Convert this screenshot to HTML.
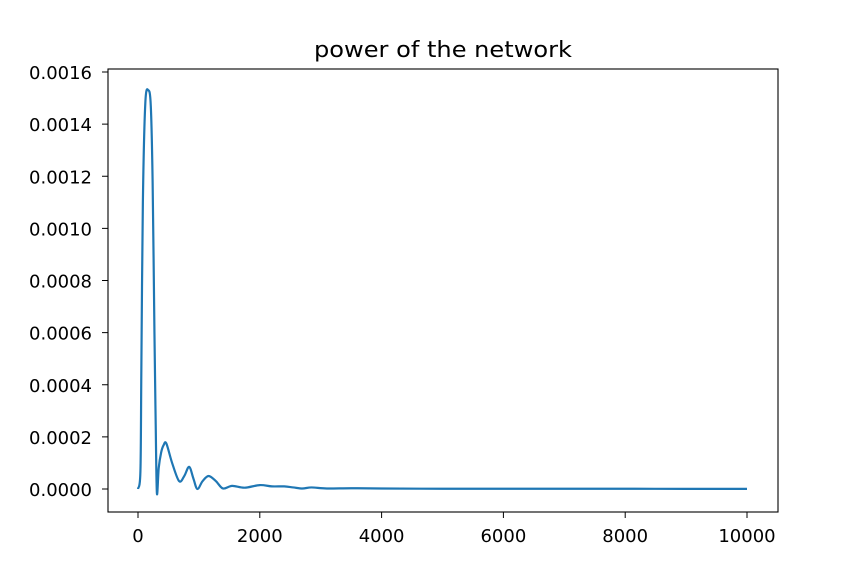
<!DOCTYPE html>
<html><head><meta charset="utf-8"><style>
body{margin:0;background:#fff;}
svg{display:block;font-family:"DejaVu Sans","Liberation Sans",sans-serif;}
</style></head><body>
<svg id="chart" width="864" height="576" viewBox="0 0 864 576">
<rect x="0" y="0" width="864" height="576" fill="#fff"/>
<text x="443" y="57" font-size="22" text-anchor="middle" textLength="258" lengthAdjust="spacingAndGlyphs" fill="#000">power of the network</text>
<g id="plot"></g>
<rect x="108" y="69" width="670" height="443" fill="none" stroke="#000" stroke-width="1.1"/>
<g id="xticks"></g><g id="yticks"></g>
</svg>
<script>
const xs = [0,40,55,80,120,170,210,240,270,290,310,340,380,420,465,560,675,760,840,910,975,1060,1160,1280,1395,1545,1750,2000,2200,2400,2550,2700,2850,3100,3500,4000,5000,6000,7000,8000,9000,10000];
const ys = [0,0.00007,0.00046,0.0011,0.00148,0.00153,0.00147,0.00118,0.0006,0.00026,-0.000015,0.00008,0.00014,0.000168,0.000175,0.0001,0.00003,0.00005,0.000085,0.00004,0.0,0.00003,0.00005,0.00003,0.000002,0.000012,0.000005,0.000015,0.00001,0.00001,0.000006,0.000002,0.000006,0.000002,0.000003,0.000002,0.000001,0.000001,0.000001,0.000001,0.0000005,0.0000005];
const xTickVals = [0,2000,4000,6000,8000,10000];
const yTickVals = [0,0.0002,0.0004,0.0006,0.0008,0.0010,0.0012,0.0014,0.0016];
const yTickLabels = ["0.0000","0.0002","0.0004","0.0006","0.0008","0.0010","0.0012","0.0014","0.0016"];

const X = v => 138 + v * (747 - 138) / 10000;
const Y = v => 489 - v * (489 - 72) / 0.0016;
const NS = "http://www.w3.org/2000/svg";
const plot = document.getElementById('plot');
const pts = xs.map((x,i)=>[X(x),Y(ys[i])]);
let d = `M${pts[0][0]},${pts[0][1]}`;
for (let i=0;i<pts.length-1;i++){
  const p0=pts[Math.max(0,i-1)],p1=pts[i],p2=pts[i+1],p3=pts[Math.min(pts.length-1,i+2)];
  const c1=[p1[0]+(p2[0]-p0[0])/6,p1[1]+(p2[1]-p0[1])/6];
  const c2=[p2[0]-(p3[0]-p1[0])/6,p2[1]-(p3[1]-p1[1])/6];
  d+=` C${c1[0]},${c1[1]} ${c2[0]},${c2[1]} ${p2[0]},${p2[1]}`;
}
const path=document.createElementNS(NS,'path');
path.setAttribute('d',d);
path.setAttribute('fill','none');
path.setAttribute('stroke','#1f77b4');
path.setAttribute('stroke-width','2.2');
path.setAttribute('stroke-linejoin','round');


plot.appendChild(path);

const xt=document.getElementById('xticks');
xTickVals.forEach(v=>{
  const l=document.createElementNS(NS,'line');
  l.setAttribute('x1',X(v));l.setAttribute('x2',X(v));l.setAttribute('y1',512);l.setAttribute('y2',518);
  l.setAttribute('stroke','#000');
  
  
  xt.appendChild(l);
  const t=document.createElementNS(NS,'text');
  const s=String(v);
  t.setAttribute('x',X(v));t.setAttribute('y',542);t.setAttribute('font-size','18');t.setAttribute('text-anchor','middle');
  t.textContent=s;
  
  
  xt.appendChild(t);
});
const yt=document.getElementById('yticks');
yTickVals.forEach((v,i)=>{
  const l=document.createElementNS(NS,'line');
  l.setAttribute('x1',102);l.setAttribute('x2',108);l.setAttribute('y1',Y(v));l.setAttribute('y2',Y(v));
  l.setAttribute('stroke','#000');
  
  
  yt.appendChild(l);
  const t=document.createElementNS(NS,'text');
  t.setAttribute('x',92);t.setAttribute('y',Y(v)+7);t.setAttribute('font-size','18');t.setAttribute('text-anchor','end');
  t.textContent=yTickLabels[i];
  
  
  yt.appendChild(t);
});
</script>
</body></html>
